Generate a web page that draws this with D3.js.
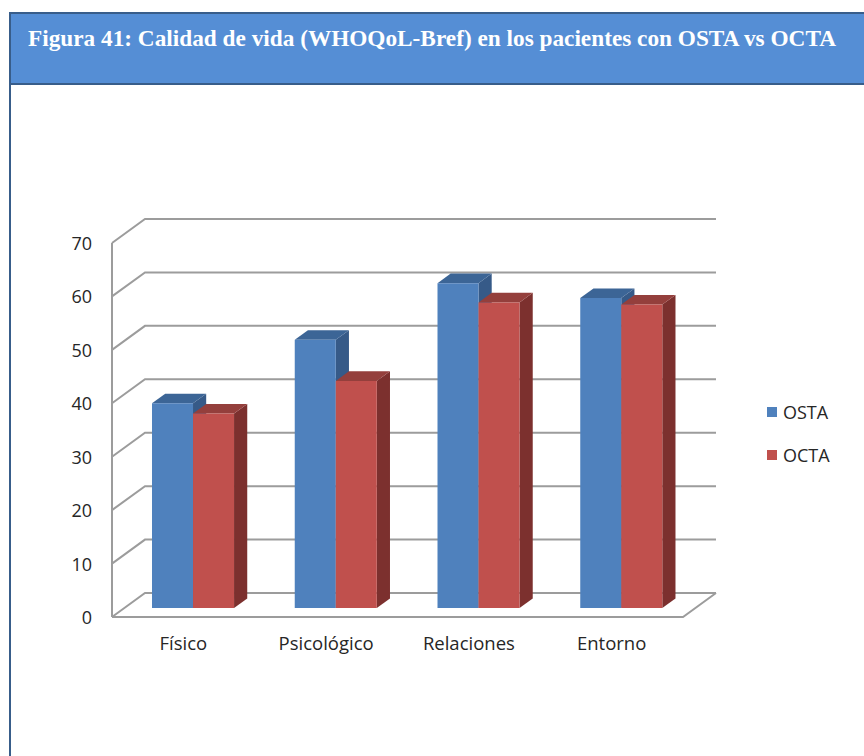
<!DOCTYPE html>
<html>
<head>
<meta charset="utf-8">
<script src="https://cdn.jsdelivr.net/npm/d3@7"></script>
<style>
  html, body { margin: 0; padding: 0; background: #ffffff; }
  svg { display: block; }
  .tick text { font-family: "Open Sans", sans-serif; fill: #262626; }
</style>
</head>
<body>
<svg id="chart" width="864" height="756"></svg>
<script>
// Data
const title = "Figura 41: Calidad de vida (WHOQoL-Bref) en los pacientes con OSTA vs OCTA";
const categories = ["Físico", "Psicológico", "Relaciones", "Entorno"];
const series = ["OSTA", "OCTA"];
const ostaValues = [38.3, 50.2, 60.8, 58.0];
const octaValues = [36.4, 42.5, 57.2, 56.8];
const yTicks = [0, 10, 20, 30, 40, 50, 60, 70];

const svg = d3.select("#chart");

// Header band with title
svg.append("rect")
  .attr("x", 10).attr("y", 13).attr("width", 870).attr("height", 71)
  .attr("fill", "#558ED5").attr("stroke", "#385D8A").attr("stroke-width", 2);
svg.append("line")
  .attr("x1", 10).attr("x2", 10).attr("y1", 84).attr("y2", 756)
  .attr("stroke", "#385D8A").attr("stroke-width", 2);
svg.append("text")
  .attr("x", 28).attr("y", 46)
  .attr("font-family", "'Liberation Serif', serif")
  .attr("font-weight", "bold").attr("font-size", 24)
  .attr("textLength", 808).attr("lengthAdjust", "spacingAndGlyphs")
  .attr("fill", "#ffffff")
  .text(title);

// 3D projection: depth (0 = front, 1 = back wall)
const WALL_DX = 33, WALL_DY = 24;
const x = d3.scaleBand().domain(categories).range([112, 683]).paddingInner(0).paddingOuter(0);
const y = d3.scaleLinear().domain([0, 70]).range([617, 243]);
const xs = d3.scaleBand().domain(series).range([0, x.bandwidth()])
  .paddingInner(0).paddingOuter(0.74).align(0.455);
const proj = (px, v, dep) => [px + dep * WALL_DX, y(v) - dep * WALL_DY];

const grid = svg.append("g").attr("fill", "none").attr("stroke", "#9c9c9c").attr("stroke-width", 2);
const xL = x.range()[0], xR = x.range()[1];

// Side-wall diagonals and back-wall gridlines
yTicks.forEach(t => {
  const a = proj(xL, t, 0), b = proj(xL, t, 1), c = proj(xR, t, 1);
  grid.append("polyline").attr("points", [a, b, c].map(p => p.join(",")).join(" "));
});
// Front vertical axis
grid.append("line")
  .attr("x1", xL).attr("x2", xL).attr("y1", y(70)).attr("y2", y(0));
// Floor outline
{
  const f0 = proj(xL, 0, 0), f1 = proj(xR, 0, 0), f2 = proj(xR, 0, 1);
  grid.append("polyline").attr("points", [f0, f1, f2].map(p => p.join(",")).join(" "));
}

// Bars
const D0 = 0.375, D1 = 0.775;
const colors = {
  OSTA: { front: "#4F81BD", top: "#3C6596", side: "#365A88" },
  OCTA: { front: "#C0504D", top: "#943F3C", side: "#7C302E" }
};
const data = categories.map((c, i) => ({ cat: c, OSTA: ostaValues[i], OCTA: octaValues[i] }));
const bars = svg.append("g");
data.forEach(d => {
  series.forEach(s => {
    const v = d[s];
    const fx0 = x(d.cat) + xs(s), fx1 = fx0 + xs.bandwidth();
    const col = colors[s];
    const poly = pts => pts.map(p => p.join(",")).join(" ");
    const a = proj(fx0, v, D0), b = proj(fx1, v, D0), b0 = proj(fx1, 0, D0), a0 = proj(fx0, 0, D0);
    const bb = proj(fx1, v, D1), ab = proj(fx0, v, D1), bb0 = proj(fx1, 0, D1);
    bars.append("polygon").attr("points", poly([b, bb, bb0, b0])).attr("fill", col.side);
    bars.append("polygon").attr("points", poly([a, b, bb, ab])).attr("fill", col.top);
    bars.append("polygon").attr("points", poly([a, b, b0, a0])).attr("fill", col.front);
  });
});

// Value axis labels
const yAxis = d3.axisLeft(y).tickValues(yTicks).tickSize(0).tickPadding(20);
svg.append("g").attr("transform", `translate(${xL},0)`).call(yAxis)
  .call(g => g.select(".domain").remove())
  .call(g => g.selectAll("text").attr("font-size", 18).attr("dy", "0.36em"));

// Category labels
const xAxis = d3.axisBottom(x).tickSize(0).tickPadding(20);
svg.append("g").attr("transform", `translate(0,${y(0)})`).call(xAxis)
  .call(g => g.select(".domain").remove())
  .call(g => g.selectAll("text").attr("font-size", 18.5));

// Legend
const legend = svg.append("g");
series.forEach((s, i) => {
  const ly = 407 + i * 43;
  legend.append("rect").attr("x", 767).attr("y", ly).attr("width", 10).attr("height", 10)
    .attr("fill", colors[s].front);
  legend.append("text").attr("x", 783).attr("y", ly + 12)
    .attr("font-family", "'Open Sans', sans-serif").attr("font-size", 18).attr("fill", "#262626")
    .text(s);
});
</script>
</body>
</html>
